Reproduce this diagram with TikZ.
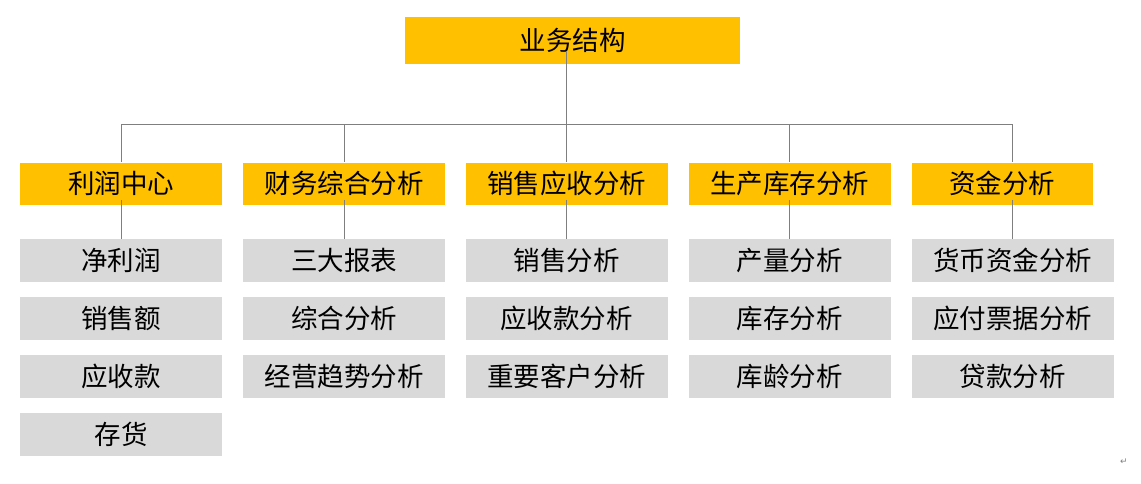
\documentclass[tikz,border=0pt]{standalone}
\usepackage{fontspec}
\setmainfont{Noto Sans CJK SC}
\newfontfamily\symfont{DejaVu Sans}
\usetikzlibrary{positioning}
\definecolor{bgold}{HTML}{FFC000}
\definecolor{bgrey}{HTML}{D9D9D9}
\definecolor{lgrey}{HTML}{7F7F7F}

\begin{document}
\begin{tikzpicture}[x=1pt, y=-1pt, font=\fontsize{26.5}{30}\selectfont,
  head/.style={fill=bgold, text=black, minimum width=335pt, minimum height=47pt, inner sep=0pt},
  cat/.style={fill=bgold, text=black, minimum width=202pt, minimum height=42pt, inner sep=0pt},
  item/.style={fill=bgrey, text=black, minimum width=202pt, minimum height=43pt, inner sep=0pt},
  link/.style={draw=lgrey, line width=0.8pt}]
  \useasboundingbox (0,0) rectangle (1141,483);
  \node[head] (top) at (572.5,40.5) {业务结构};
  % column 1
  \node[item] (g11) at (121,260.5) {净利润};
  \node[item, below=14.5pt of g11] (g12) {销售额};
  \node[item, below=14.5pt of g12] (g13) {应收款};
  \node[item, below=14.5pt of g13] (g14) {存货};
  \node[cat, above=34pt of g11] (c1) {利润中心};
  % column 2
  \node[item] (g21) at (344,260.5) {三大报表};
  \node[item, below=14.5pt of g21] (g22) {综合分析};
  \node[item, below=14.5pt of g22] (g23) {经营趋势分析};
  \node[cat, above=34pt of g21] (c2) {财务综合分析};
  % column 3
  \node[item] (g31) at (566.5,260.5) {销售分析};
  \node[item, below=14.5pt of g31] (g32) {应收款分析};
  \node[item, below=14.5pt of g32] (g33) {重要客户分析};
  \node[cat, above=34pt of g31] (c3) {销售应收分析};
  % column 4
  \node[item] (g41) at (789.5,260.5) {产量分析};
  \node[item, below=14.5pt of g41] (g42) {库存分析};
  \node[item, below=14.5pt of g42] (g43) {库龄分析};
  \node[cat, above=34pt of g41] (c4) {生产库存分析};
  % column 5
  \node[item] (g51) at (1012.5,260.5) {货币资金分析};
  \node[item, below=14.5pt of g51] (g52) {应付票据分析};
  \node[item, below=14.5pt of g52] (g53) {贷款分析};
  \node[cat, minimum width=181pt, above=34pt of g51.north west, anchor=south west] (c5) {资金分析};
  \node[text=lgrey, font=\symfont\fontsize{9}{10}\selectfont] (mark) at (1124,462) {↵};
  % connectors
  \coordinate (bus) at (566.5,124);
  \draw[link] ([yshift=13pt]top.south -| bus) -- (bus);
  \draw[link] (g11.north |- bus) -- (g51.north |- bus);
  \draw[link] (g11.north |- bus) -- (c1.north);
  \draw[link] (g21.north |- bus) -- (c2.north);
  \draw[link] (g31.north |- bus) -- (c3.north);
  \draw[link] (g41.north |- bus) -- (c4.north);
  \draw[link] (g51.north |- bus) -- (g51.north |- c5.north);
  \draw[link] ([yshift=5pt]c1.south) -- (g11.north);
  \draw[link] ([yshift=5pt]c2.south) -- (g21.north);
  \draw[link] ([yshift=5pt]c3.south) -- (g31.north);
  \draw[link] ([yshift=5pt]c4.south) -- (g41.north);
  \draw[link] ([yshift=5pt]g51.north |- c5.south) -- (g51.north);
\end{tikzpicture}
\end{document}
